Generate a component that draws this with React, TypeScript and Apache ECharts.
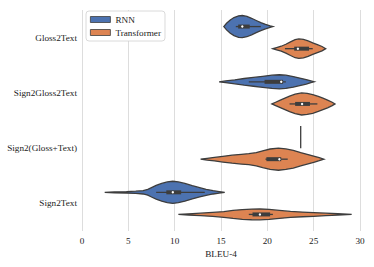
import React, { useEffect, useRef } from "react";
import * as echarts from "echarts";

const categories = ["Gloss2Text", "Sign2Gloss2Text", "Sign2(Gloss+Text)", "Sign2Text"];
const xTicks = { min: 0, max: 30, interval: 5 };

// violin outlines: [BLEU-4, relative half-width]
const rnnDensity: number[][][] = [
  [[15.3, 0], [15.6, 0.3], [16.0, 0.6], [16.4, 0.82], [16.9, 0.97], [17.3, 1.0], [17.8, 0.92], [18.3, 0.75], [18.8, 0.55], [19.3, 0.36], [19.8, 0.2], [20.3, 0.07], [20.6, 0]],
  [[14.8, 0], [15.5, 0.08], [16.5, 0.18], [17.5, 0.3], [18.5, 0.4], [19.5, 0.5], [20.5, 0.6], [21.3, 0.64], [22.0, 0.6], [22.8, 0.48], [23.5, 0.34], [24.2, 0.2], [24.7, 0.08], [25.05, 0]],
  [],
  [[2.45, 0], [3.5, 0.04], [4.8, 0.06], [5.8, 0.1], [6.6, 0.15], [7.1, 0.26], [7.5, 0.42], [8.0, 0.62], [8.6, 0.8], [9.2, 0.94], [9.8, 1.0], [10.4, 0.94], [11.1, 0.8], [11.9, 0.6], [12.7, 0.42], [13.4, 0.27], [14.15, 0.15], [14.8, 0.07], [15.4, 0]],
];
const transformerDensity: number[][][] = [
  [[20.6, 0], [21.0, 0.1], [21.5, 0.22], [22.0, 0.4], [22.5, 0.62], [23.0, 0.82], [23.4, 0.88], [23.9, 0.84], [24.4, 0.7], [24.9, 0.52], [25.4, 0.36], [25.9, 0.2], [26.3, 0]],
  [[20.5, 0], [20.9, 0.15], [21.4, 0.34], [21.9, 0.52], [22.4, 0.7], [23.0, 0.88], [23.7, 1.0], [24.3, 0.95], [24.9, 0.85], [25.5, 0.68], [26.0, 0.52], [26.5, 0.35], [27.0, 0.15], [27.3, 0]],
  [[12.8, 0], [13.5, 0.08], [14.3, 0.16], [15.2, 0.26], [16.2, 0.36], [17.2, 0.44], [18.0, 0.5], [18.8, 0.6], [19.5, 0.76], [20.3, 0.92], [21.2, 1.0], [22.0, 0.93], [22.8, 0.8], [23.6, 0.6], [24.4, 0.42], [25.1, 0.26], [25.6, 0.14], [26.1, 0]],
  [[10.4, 0], [11.5, 0.05], [12.8, 0.11], [14.1, 0.18], [15.3, 0.26], [16.3, 0.36], [17.3, 0.44], [18.3, 0.48], [19.2, 0.49], [20.2, 0.45], [21.3, 0.36], [22.5, 0.27], [23.8, 0.21], [25.0, 0.17], [26.3, 0.11], [27.6, 0.06], [29.1, 0]],
];

// [whisker low, q1, median, q3, whisker high]
const rnnBox: number[][] = [
  [16.6, 16.85, 17.3, 18.1, 19.3],
  [18.0, 19.7, 21.5, 21.7, 22.0],
  [23.6, 23.6, 23.6, 23.6, 23.6],
  [8.0, 9.1, 9.8, 10.7, 13.25],
];
const transformerBox: number[][] = [
  [21.9, 22.9, 23.3, 24.5, 24.9],
  [22.4, 23.0, 23.75, 24.6, 25.4],
  [19.8, 19.9, 21.3, 21.5, 22.2],
  [18.0, 18.4, 19.2, 20.3, 20.6],
];

const RNN_COLOR = "#4c72b0";
const TRANS_COLOR = "#dd8452";
const EDGE = "#3d3d3d";
const FONT = "Liberation Serif";
const FS = 9.2;

function makeRender(dens: number[][][], boxes: number[][], color: string, side: number) {
  return (params: any, api: any) => {
    const i = api.value(1);
    const c = api.coord([0, i]);
    const band = api.size([0, 1])[1];
    const cy = c[1] + side * 0.2 * band;
    const half = 0.2 * band;
    const x = (v: number) => api.coord([v, i])[0];
    const children: any[] = [];
    const d = dens[i];
    const b = boxes[i];
    if (d.length) {
      const top = d.map(([v, w]) => [x(v), cy - w * half]);
      const bot = d.slice().reverse().map(([v, w]) => [x(v), cy + w * half]);
      children.push({
        type: "polygon",
        shape: { points: top.concat(bot) },
        style: { fill: color, stroke: EDGE, lineWidth: 1.3 },
      });
      children.push({
        type: "line",
        shape: { x1: x(b[0]), y1: cy, x2: x(b[4]), y2: cy },
        style: { stroke: EDGE, lineWidth: 1.3 },
      });
      children.push({
        type: "line",
        shape: { x1: x(b[1]), y1: cy, x2: x(b[3]), y2: cy },
        style: { stroke: EDGE, lineWidth: 4 },
      });
      children.push({
        type: "circle",
        shape: { cx: x(b[2]), cy, r: 1.2 },
        style: { fill: "#ffffff" },
      });
    } else {
      children.push({
        type: "line",
        shape: { x1: x(b[2]), y1: cy - half, x2: x(b[2]), y2: cy + half },
        style: { stroke: EDGE, lineWidth: 1.3 },
      });
    }
    return { type: "group", children };
  };
}

export default function App() {
  const ref = useRef<HTMLDivElement>(null);
  useEffect(() => {
    document.body.style.margin = "0";
    const chart = echarts.init(ref.current!, null, { renderer: "svg" });
    const data = categories.map((_, i) => [0, i]);
    chart.setOption({
      animation: false,
      backgroundColor: "#ffffff",
      textStyle: { fontFamily: FONT },
      grid: { left: 82, right: 14, top: 10, bottom: 36, containLabel: false },
      legend: {
        left: 86,
        top: 11,
        orient: "vertical",
        selectedMode: false,
        itemWidth: 20,
        itemHeight: 6,
        itemGap: 4,
        padding: [4, 4, 4, 4],
        borderColor: "#d0d0d0",
        borderWidth: 0.8,
        borderRadius: 3,
        backgroundColor: "#ffffff",
        textStyle: { fontFamily: FONT, fontSize: FS, color: "#222" },
        data: [
          { name: "RNN", icon: "rect", itemStyle: { color: RNN_COLOR, borderColor: EDGE, borderWidth: 0.8 } },
          { name: "Transformer", icon: "rect", itemStyle: { color: TRANS_COLOR, borderColor: EDGE, borderWidth: 0.8 } },
        ],
      },
      xAxis: {
        type: "value",
        min: xTicks.min,
        max: xTicks.max,
        interval: xTicks.interval,
        name: "BLEU-4",
        nameLocation: "middle",
        nameGap: 13,
        nameTextStyle: { fontFamily: FONT, fontSize: FS, color: "#222" },
        axisLine: { show: false },
        axisTick: { show: false },
        axisLabel: { fontFamily: FONT, fontSize: FS, color: "#222", margin: 5 },
        splitLine: { show: true, lineStyle: { color: "#dddddd", width: 1 } },
      },
      yAxis: {
        type: "category",
        data: categories,
        inverse: true,
        axisLine: { show: false },
        axisTick: { show: false },
        axisLabel: { fontFamily: FONT, fontSize: FS, color: "#222", margin: 5 },
        splitLine: { show: false },
      },
      series: [
        {
          name: "RNN",
          type: "custom",
          itemStyle: { color: RNN_COLOR },
          encode: { x: 0, y: 1 },
          data,
          renderItem: makeRender(rnnDensity, rnnBox, RNN_COLOR, -1),
        },
        {
          name: "Transformer",
          type: "custom",
          itemStyle: { color: TRANS_COLOR },
          encode: { x: 0, y: 1 },
          data,
          renderItem: makeRender(transformerDensity, transformerBox, TRANS_COLOR, 1),
        },
      ],
    });
    return () => chart.dispose();
  }, []);
  return <div ref={ref} style={{ width: 374, height: 267 }} />;
}
